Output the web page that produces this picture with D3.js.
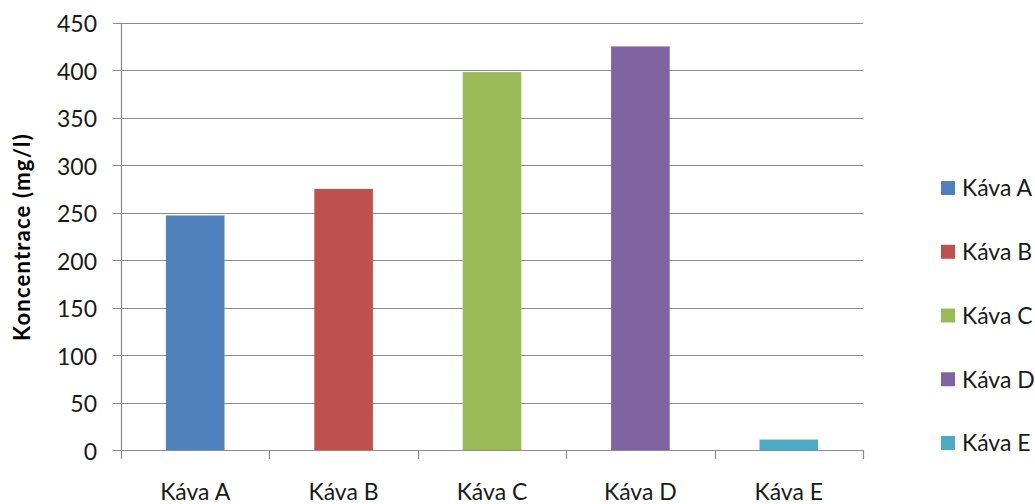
<!DOCTYPE html>
<html>
<head>
<meta charset="utf-8">
<script src="https://cdn.jsdelivr.net/npm/d3@7"></script>
<style>
  html, body { margin: 0; padding: 0; background: #fff; }
  svg text { font-family: Lato, "Open Sans", sans-serif; fill: #000; }
</style>
</head>
<body>
<div id="chart"></div>
<script>
// data
const categories = ["Káva A", "Káva B", "Káva C", "Káva D", "Káva E"];
const values = [247, 275, 398, 425, 11];
const colors = ["#4F81BD", "#C0504D", "#9BBB59", "#8064A2", "#4BACC6"];
const yTicks = [0, 50, 100, 150, 200, 250, 300, 350, 400, 450];
const yTitle = "Koncentrace (mg/l)";

const W = 1035, H = 504;
const plotL = 121, plotR = 863, plotT = 22.7, plotB = 450;

const svg = d3.select("#chart").append("svg")
  .attr("width", W).attr("height", H);

const x = d3.scaleBand().domain(categories).range([plotL, plotR]).paddingInner(0).paddingOuter(0);
const y = d3.scaleLinear().domain([0, 450]).range([plotB, plotT]);

// gridlines
svg.append("g")
  .selectAll("line")
  .data(yTicks)
  .join("line")
  .attr("x1", plotL - 8).attr("x2", plotR)
  .attr("y1", d => Math.round(y(d)) + 0.5).attr("y2", d => Math.round(y(d)) + 0.5)
  .attr("stroke", "#8c8c8c").attr("stroke-width", 1.2);

// y axis line
svg.append("line")
  .attr("x1", plotL + 0.5).attr("x2", plotL + 0.5)
  .attr("y1", y(450)).attr("y2", plotB)
  .attr("stroke", "#8c8c8c").attr("stroke-width", 1.2);

// y tick labels
svg.append("g")
  .selectAll("text")
  .data(yTicks)
  .join("text")
  .attr("x", 97)
  .attr("y", d => y(d))
  .attr("dy", "0.42em")
  .attr("text-anchor", "end")
  .style("font-size", "23px")
  .style("fill", "#1a1a1a")
  .text(d => d);

// bars
const bw = x.bandwidth() * 0.395;
svg.append("g")
  .selectAll("rect")
  .data(values)
  .join("rect")
  .attr("x", (d, i) => x(categories[i]) + (x.bandwidth() - bw) / 2)
  .attr("width", bw)
  .attr("y", d => y(d))
  .attr("height", d => plotB - y(d))
  .attr("fill", (d, i) => colors[i]);

// x axis line + ticks
svg.append("line")
  .attr("x1", plotL).attr("x2", plotR)
  .attr("y1", Math.round(plotB) + 0.5).attr("y2", Math.round(plotB) + 0.5)
  .attr("stroke", "#8c8c8c").attr("stroke-width", 1.2);

const tickPos = categories.map(c => x(c)).concat([plotR]);
svg.append("g")
  .selectAll("line")
  .data(tickPos)
  .join("line")
  .attr("x1", d => Math.round(d) + 0.5).attr("x2", d => Math.round(d) + 0.5)
  .attr("y1", plotB).attr("y2", plotB + 9)
  .attr("stroke", "#8c8c8c").attr("stroke-width", 1.2);

// x labels
svg.append("g")
  .selectAll("text")
  .data(categories)
  .join("text")
  .attr("x", d => x(d) + x.bandwidth() / 2)
  .attr("y", 500)
  .attr("text-anchor", "middle")
  .style("font-size", "23px")
  .style("fill", "#1a1a1a")
  .text(d => d);

// y title
svg.append("text")
  .attr("transform", `translate(30,237) rotate(-90)`)
  .attr("text-anchor", "middle")
  .style("font-size", "22px")
  .style("font-weight", "bold")
  .style("letter-spacing", "1.2px")
  .text(yTitle);

// legend
const legendY = d3.scaleLinear().domain([0, categories.length - 1]).range([188, 443]);
const lg = svg.append("g")
  .selectAll("g")
  .data(categories)
  .join("g")
  .attr("transform", (d, i) => `translate(941,${legendY(i)})`);

lg.append("rect")
  .attr("x", 0).attr("y", -7)
  .attr("width", 14).attr("height", 14)
  .attr("fill", (d, i) => colors[i]);

lg.append("text")
  .attr("x", 21).attr("y", 0).attr("dy", "0.36em")
  .style("font-size", "23px")
  .style("fill", "#1a1a1a")
  .text(d => d);
</script>
</body>
</html>
